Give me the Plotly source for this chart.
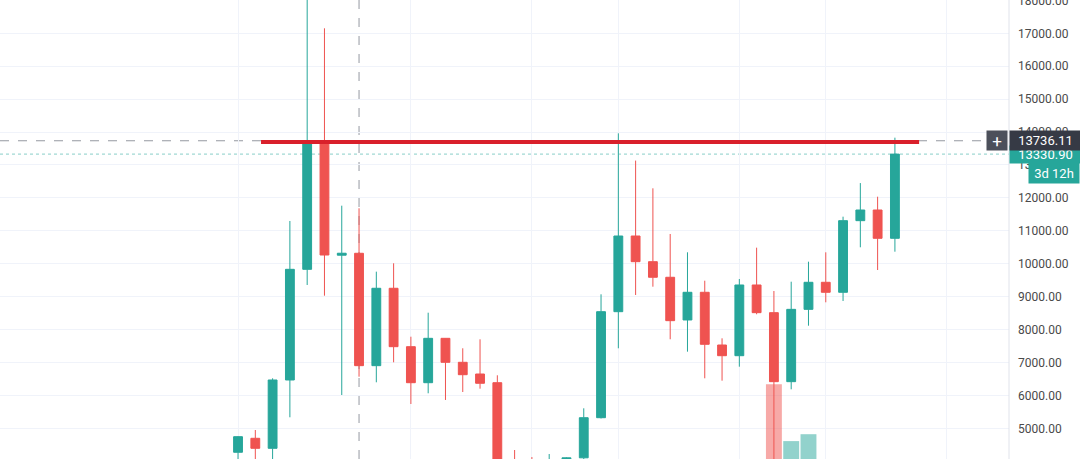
import plotly.graph_objects as go

# ---------------- data (monthly candles) ----------------
months = [
    "2017-08", "2017-09", "2017-10", "2017-11", "2017-12",
    "2018-01", "2018-02", "2018-03", "2018-04", "2018-05", "2018-06",
    "2018-07", "2018-08", "2018-09", "2018-10", "2018-11", "2018-12",
    "2019-01", "2019-02", "2019-03", "2019-04", "2019-05", "2019-06",
    "2019-07", "2019-08", "2019-09", "2019-10", "2019-11", "2019-12",
    "2020-01", "2020-02", "2020-03", "2020-04", "2020-05", "2020-06",
    "2020-07", "2020-08", "2020-09", "2020-10",
]
open_ = [4273, 4698, 4394, 6469, 9831,
         13700, 10260, 10318, 6904, 9255, 7481,
         6387, 7735, 7006, 6651, 6387, 4000,
         3700, 3440, 3820, 4105, 5324, 8544,
         10843, 10063, 9589, 8292, 9133, 7532,
         7207, 9355, 8514, 6418, 8615, 9437,
         9133, 11309, 11633, 10773]
high = [4760, 4950, 6520, 11299, 19500,
        17152, 11764, 11685, 9760, 10014, 7784,
        8513, 7740, 7432, 7705, 6612, 4342,
        4128, 4220, 4120, 5609, 9072, 13962,
        13134, 12292, 10904, 10348, 9485, 7735,
        9537, 10489, 9172, 9455, 10063, 10348,
        11430, 12451, 12037, 13830]
low = [3950, 3950, 4000, 5336, 9355,
       9030, 6013, 6569, 6399, 7006, 5740,
       6065, 5862, 6104, 6205, 3500, 3200,
       3350, 3380, 3730, 4050, 5300, 7432,
       9051, 9303, 7706, 7329, 6520, 6448,
       6873, 8465, 3850, 6186, 8118, 8829,
       8869, 10500, 9810, 10366]
close = [4747, 4394, 6469, 9831, 13700,
         10266, 10320, 6904, 9255, 7481, 6387,
         7735, 7006, 6630, 6369, 4000, 3700,
         3440, 3820, 4105, 5324, 8544, 10843,
         10063, 9589, 8271, 9133, 7553, 7207,
         9355, 8514, 6418, 8615, 9437, 9133,
         11309, 11633, 10773, 13330.90]

# visible volume bars (arbitrary units, rest of the volume pane is cropped)
vol_months = ["2020-03", "2020-04", "2020-05"]
vol_values = [16.3, 3.9, 5.4]

price_ticks = list(range(4000, 19000, 1000))
grid_month_idx = [0, 10, 17, 22, 29, 34, 41]

resist_level = 13700
resist_from, resist_to = 1.33, 39.4       # drawn trend line span (bar index)
crosshair_price = 13736.11
crosshair_month = "2018-03"
last_price = 13330.90
countdown = "3d 12h"

# ---------------- figure ----------------
UP = "#26a69a"
DOWN = "#ef5350"
xs = list(range(len(months)))
idx = {m: i for i, m in enumerate(months)}

fig = go.Figure()

# volume (base axis, drawn beneath candles)
vx = [idx[m] for m in vol_months]
vcol = ["rgba(239,83,80,0.5)" if close[idx[m]] < open_[idx[m]] else "rgba(38,166,154,0.5)"
        for m in vol_months]
fig.add_trace(go.Bar(x=vx, y=vol_values, marker=dict(color=vcol, line=dict(width=0)),
                     width=0.92, yaxis="y", hoverinfo="skip", showlegend=False))

fig.add_trace(go.Candlestick(
    x=xs, open=open_, high=high, low=low, close=close, text=months,
    yaxis="y2", whiskerwidth=0,
    increasing=dict(line=dict(color=UP, width=1), fillcolor=UP),
    decreasing=dict(line=dict(color=DOWN, width=1), fillcolor=DOWN),
    showlegend=False,
))

# red horizontal trend line
fig.add_trace(go.Scatter(x=[resist_from, resist_to], y=[resist_level, resist_level],
                         mode="lines", line=dict(color="#d9202b", width=4),
                         yaxis="y2", hoverinfo="skip", showlegend=False))

PLOT_W = 1009
shapes = [
    # current price dotted line
    dict(type="line", layer="below", xref="paper", x0=0, x1=1, yref="y2",
         y0=last_price, y1=last_price,
         line=dict(color="rgba(38,166,154,0.55)", width=1, dash="dot")),
    # crosshair horizontal
    dict(type="line", layer="below", xref="paper", x0=0, x1=987 / PLOT_W, yref="y2",
         y0=crosshair_price, y1=crosshair_price,
         line=dict(color="#9598a1", width=1, dash="dash")),
    # crosshair vertical
    dict(type="line", layer="below", xref="x", x0=idx[crosshair_month], x1=idx[crosshair_month],
         yref="paper", y0=0, y1=1,
         line=dict(color="#9598a1", width=1, dash="dash")),
    # price axis border
    dict(type="line", xref="paper", x0=1, x1=1, yref="paper", y0=0, y1=1,
         line=dict(color="#e0e3eb", width=1)),
]

annotations = [
    dict(xref="paper", x=1.0, xanchor="left", yref="y2", y=last_price, yanchor="middle",
         text=f"{last_price:.2f}", showarrow=False, bgcolor=UP, width=71, height=17,
         borderpad=0, align="center", font=dict(family="Roboto", size=13, color="white")),
    dict(xref="paper", x=1028 / PLOT_W, xanchor="left", yref="y2", y=12757, yanchor="middle",
         text=countdown, showarrow=False, bgcolor=UP, width=50, height=20,
         borderpad=0, align="center", font=dict(family="Roboto", size=13, color="white")),
    dict(xref="paper", x=1.0, xanchor="left", yref="y2", y=crosshair_price, yanchor="middle",
         text=f"{crosshair_price:.2f}", showarrow=False, bgcolor="#363a45", width=71, height=19,
         borderpad=0, align="center", font=dict(family="Roboto", size=13, color="white")),
    dict(xref="paper", x=997 / PLOT_W, xanchor="center", yref="y2", y=crosshair_price,
         yanchor="middle", text="+", showarrow=False, bgcolor="#4c505b", width=20, height=19,
         borderpad=0, align="center", font=dict(family="Roboto", size=17, color="white")),
]

fig.update_layout(
    width=1080, height=459,
    margin=dict(l=0, r=71, t=0, b=0, autoexpand=False),
    paper_bgcolor="white", plot_bgcolor="white",
    boxgap=0.27,
    xaxis=dict(range=[-13.77, 44.6], tickmode="array", tickvals=grid_month_idx,
               showticklabels=False, showgrid=True, gridcolor="#f0f3fa", gridwidth=1,
               zeroline=False, showline=False, rangeslider=dict(visible=False), ticks="",
               automargin=False),
    yaxis=dict(range=[0, 100], visible=False, showgrid=False, zeroline=False,
               fixedrange=True, automargin=False),
    yaxis2=dict(overlaying="y", side="right", range=[4069, 18012],
                tickmode="array", tickvals=price_ticks,
                ticktext=[f"{v:.2f}" for v in price_ticks],
                showgrid=True, gridcolor="#f0f3fa", gridwidth=1, zeroline=False,
                showline=False, ticks="", ticklabelstandoff=8, automargin=False,
                ticklabeloverflow="allow",
                tickfont=dict(family="Roboto", size=12, color="#4a4a4a")),
    shapes=shapes,
    annotations=annotations,
    hovermode=False,
)

fig.write_html("out.html",
               config={"displayModeBar": False},
               post_script="document.body.style.margin='0';document.body.style.overflow='hidden';")
